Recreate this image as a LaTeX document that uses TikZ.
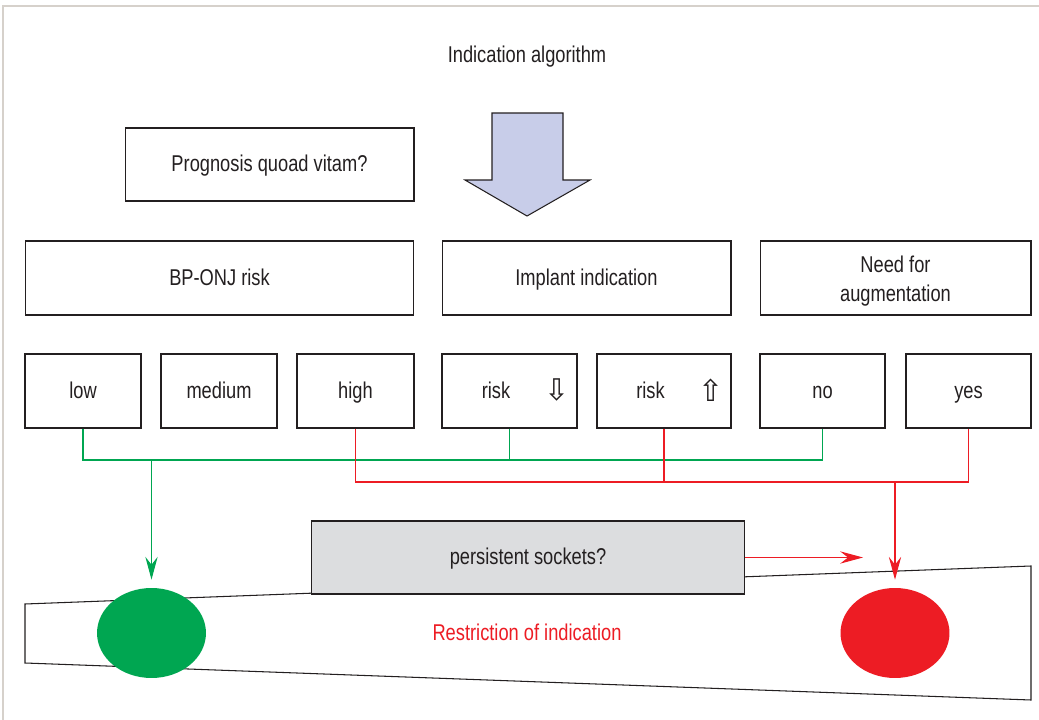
\documentclass[tikz,border=0pt]{standalone}
\usepackage{fontspec}
\setmainfont{Liberation Sans}[FakeStretch=0.8]
\newfontfamily\symfont{DejaVu Sans}
\usepackage{tikz}
\usetikzlibrary{arrows.meta,shapes.geometric}
\definecolor{okgreen}{HTML}{00A651}
\definecolor{nored}{HTML}{ED1C24}
\definecolor{arrowblue}{HTML}{C8CDE9}
\definecolor{sockgray}{HTML}{DCDDDF}
\definecolor{framegray}{HTML}{D6D1CB}
\definecolor{ink}{HTML}{231F20}
\tikzset{
	txt/.style = {align=center, inner sep=0pt, text=ink,
		font=\fontsize{13}{16.5}\selectfont, text height=2.0ex, text depth=0.4ex},
	box_n/.style = {txt, rectangle, draw=ink, line width=0.6pt,
		minimum height=1.48cm},
	box_s/.style = {box_n, fill=sockgray, minimum height=1.46cm},
	dot_g/.style = {ellipse, fill=okgreen, minimum width=2.18cm,
		minimum height=1.8cm, inner sep=0pt},
	dot_r/.style = {dot_g, fill=nored},
	gline/.style = {okgreen, line width=0.6pt},
	rline/.style = {nored, line width=0.6pt},
	tip/.style = {-{Stealth[length=13pt, width=7pt, inset=4.5pt]}}
}

\begin{document}
\begin{tikzpicture}[x=0.02cm,y=-0.02cm]
\useasboundingbox (0,0) rectangle (1039,720);
% frame
\draw[framegray, line width=1pt] (3,720) -- (3,6) -- (1039,6);

\node[txt] (title) at (527,55) {Indication algorithm};
\node[box_n, minimum width=5.78cm, minimum height=1.46cm] (prog) at (269.5,164.5) {Prognosis quoad vitam?};

% big arrow
\draw[ink, line width=0.6pt, fill=arrowblue] (492,113) -- (563,113) -- (563,180) -- (590,180)
	-- (527,216) -- (465,180) -- (492,180) -- cycle;

% second row
\node[box_n, minimum width=7.78cm] (bponj) at (219.5,278) {BP-ONJ risk};
\node[box_n, minimum width=5.78cm] (impl) at (586.5,278) {Implant indication};
\node[box_n, minimum width=5.42cm, text height=, text depth=] (aug) at (895.5,278) {};
\node[txt, text height=, text depth=] (aug_t) at ([yshift=-0.06cm]aug.center) {Need for\\augmentation};

% third row
\node[box_n, minimum width=2.32cm] (low) at (83,391) {low};
\node[box_n, minimum width=2.32cm] (medium) at (219,391) {medium};
\node[box_n, minimum width=2.34cm] (high) at (355.5,391) {high};
\node[box_n, minimum width=2.7cm] (riskdn) at (509.5,391) {};
\node[box_n, minimum width=2.68cm] (riskup) at (664,391) {};
\node[box_n, minimum width=2.5cm] (no) at (822.5,391) {no};
\node[box_n, minimum width=2.5cm] (yes) at (968.5,391) {yes};
\node[txt] (riskdn_t) at ([xshift=-0.27cm]riskdn.center) {risk};
\node[txt, text height=, text depth=] (riskdn_a) at ([xshift=0.95cm,yshift=0.02cm]riskdn.center) {\symfont\fontsize{17}{17}\selectfont ⇩};
\node[txt] (riskup_t) at ([xshift=-0.27cm]riskup.center) {risk};
\node[txt, text height=, text depth=] (riskup_a) at ([xshift=0.95cm,yshift=0.02cm]riskup.center) {\symfont\fontsize{17}{17}\selectfont ⇧};

% bottom
\draw[ink, line width=0.6pt, fill=white] (25,604) -- (1031,566) -- (1031,700) -- (25,663) -- cycle;
\node[box_s, minimum width=8.68cm] (persist) at (528,557.5) {persistent sockets?};
\node[dot_g] (gdot) at (151.5,633) {};
\node[dot_r] (rdot) at (895,633) {};
\node[txt, text=nored] (restr) at (527,633) {Restriction of indication};

% connectors
\coordinate (gbus) at (151.5,460);
\coordinate (rbus) at (895,482);
\coordinate (rtip) at (863,557.5);
\draw[gline] (low.south) -- (low.south |- gbus) -| (no.south);
\draw[gline] (riskdn.south) -- (riskdn.south |- gbus);
\draw[gline, tip] (gbus) -- ([yshift=0.16cm]gdot.north);
\draw[rline] (high.south) -- (high.south |- rbus) -| (yes.south);
\draw[rline] (riskup.south) -- (riskup.south |- rbus);
\draw[rline, tip] (rbus) -- ([yshift=0.16cm]rdot.north);
\draw[rline, tip] (persist.east) -- (rtip);
\end{tikzpicture}
\end{document}
